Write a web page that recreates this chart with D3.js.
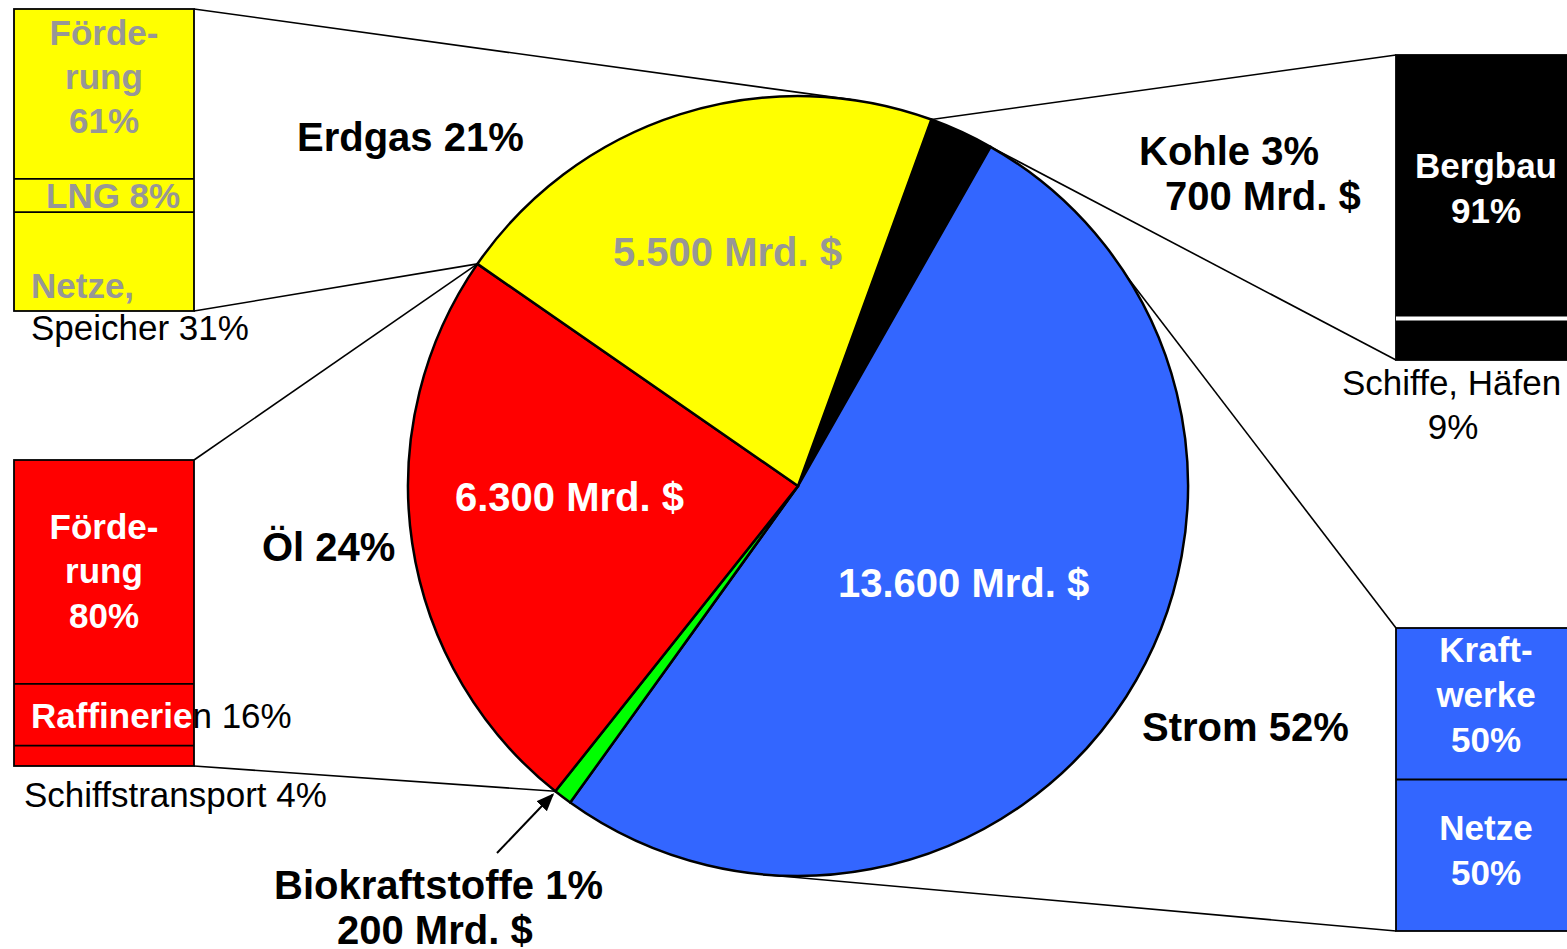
<!DOCTYPE html>
<html>
<head>
<meta charset="utf-8">
<script src="https://cdn.jsdelivr.net/npm/d3@7/dist/d3.min.js"></script>
<style>
  body { margin: 0; background: #fff; }
  text { font-family: "Liberation Sans", Arial, sans-serif; }
</style>
</head>
<body>
<svg id="chart" width="1567" height="949"></svg>
<script>
// Investitionen in die Energieversorgung (Mrd. $)
var sectors = ["Kohle", "Strom", "Biokraftstoffe", "Öl", "Erdgas"];
var investments = [700, 13600, 200, 6300, 5500];
var sectorShares = [3, 52, 1, 24, 21];
var sectorColors = ["#000000", "#3366ff", "#00ff00", "#ff0000", "#ffff00"];

// breakdown bars
var erdgasParts = ["Förderung", "LNG", "Netze, Speicher"];
var erdgasShares = [61, 8, 31];
var oelParts = ["Förderung", "Raffinerien", "Schiffstransport"];
var oelShares = [80, 16, 4];
var kohleParts = ["Bergbau", "Schiffe, Häfen"];
var kohleShares = [91, 9];
var stromParts = ["Kraftwerke", "Netze"];
var stromShares = [50, 50];

var svg = d3.select("#chart");
var cx = 798, cy = 486, r = 390;
var startAngle = 20 * Math.PI / 180;

var pie = d3.pie().sort(null).value(function (d) { return d; })
    .startAngle(startAngle).endAngle(startAngle + 2 * Math.PI);
var arcs = pie(investments);
var arc = d3.arc().innerRadius(0).outerRadius(r);

function onCircle(a, rr) {
    rr = rr || r;
    return [cx + rr * Math.sin(a), cy - rr * Math.cos(a)];
}
// tangent point on the pie seen from an outside point, side = +1 / -1
function tangent(p, side) {
    var dx = p[0] - cx, dy = p[1] - cy;
    var d = Math.sqrt(dx * dx + dy * dy);
    var th = Math.atan2(dx, -dy);
    return onCircle(th + side * Math.acos(r / d));
}

var boxW = 180;
var boxes = [
    {name: "Erdgas", x: 14, y0: 9, y1: 311, shares: erdgasShares, fill: "#ffff00", sep: "#000"},
    {name: "Öl", x: 14, y0: 460, y1: 766, shares: oelShares, fill: "#ff0000", sep: "#000"},
    {name: "Kohle", x: 1396, y0: 55, y1: 360, shares: kohleShares, fill: "#000000", sep: "#fff"},
    {name: "Strom", x: 1396, y0: 628, y1: 931, shares: stromShares, fill: "#3366ff", sep: "#000"}
];
// small parts get a little more room: segment size ~ share^0.8
var grow = d3.scalePow().exponent(0.8).domain([0, 100]).range([0, 100]);
boxes.forEach(function (b) {
    var w = b.shares.map(grow);
    var total = d3.sum(w);
    var y = d3.scaleLinear().domain([0, total]).range([b.y0, b.y1]);
    var cum = 0;
    b.segs = w.map(function (v) {
        var o = {top: y(cum), bottom: y(cum + v)};
        cum += v;
        return o;
    });
});

// -------------------------------------------------------------
// connector lines (drawn behind the pie)
var kohle = arcs[0], oel = arcs[3];
var lines = [
    [[boxes[0].x + boxW, boxes[0].y0], tangent([boxes[0].x + boxW, boxes[0].y0], 1)],
    [[boxes[0].x + boxW, boxes[0].y1], onCircle(oel.endAngle)],
    [[boxes[1].x + boxW, boxes[1].y0], onCircle(oel.endAngle)],
    [[boxes[1].x + boxW, boxes[1].y1], onCircle(oel.startAngle)],
    [[boxes[2].x, boxes[2].y0], onCircle(kohle.startAngle)],
    [[boxes[2].x, boxes[2].y1], onCircle(kohle.endAngle)],
    [[boxes[3].x, boxes[3].y0], onCircle(47.5 * Math.PI / 180)],
    [[boxes[3].x, boxes[3].y1], tangent([boxes[3].x, boxes[3].y1], 1)]
];
svg.append("g").selectAll("line").data(lines).enter().append("line")
    .attr("x1", function (d) { return d[0][0]; })
    .attr("y1", function (d) { return d[0][1]; })
    .attr("x2", function (d) { return d[1][0]; })
    .attr("y2", function (d) { return d[1][1]; })
    .attr("stroke", "#000").attr("stroke-width", 1.6);

// pie
svg.append("g").attr("transform", "translate(" + cx + "," + cy + ")")
    .selectAll("path").data(arcs).enter().append("path")
    .attr("d", arc)
    .attr("fill", function (d, i) { return sectorColors[i]; })
    .attr("stroke", "#000").attr("stroke-width", 2.5)
    .attr("stroke-linejoin", "round");

// breakdown bars
boxes.forEach(function (b) {
    var g = svg.append("g");
    g.append("rect")
        .attr("x", b.x).attr("y", b.y0).attr("width", boxW).attr("height", b.y1 - b.y0)
        .attr("fill", b.fill).attr("stroke", "#000").attr("stroke-width", 1.8);
    g.selectAll("line.sep").data(b.segs.slice(1)).enter().append("line")
        .attr("x1", b.x).attr("x2", b.x + boxW)
        .attr("y1", function (d) { return d.top; })
        .attr("y2", function (d) { return d.top; })
        .attr("stroke", b.sep).attr("stroke-width", b.sep === "#fff" ? 4 : 1.8);
});

// -------------------------------------------------------------
// labels
function label(x, y, txt, opts) {
    opts = opts || {};
    return svg.append("text").attr("x", x).attr("y", y)
        .attr("text-anchor", opts.anchor || "start")
        .attr("font-size", opts.size || 40)
        .attr("font-weight", opts.weight || "bold")
        .attr("fill", opts.fill || "#000")
        .text(txt);
}
function fmt(v) { return d3.format(",")(v).replace(/,/g, ".") + " Mrd. $"; }
var gray = "#979797";

label(297, 151, sectors[4] + " " + sectorShares[4] + "%");
label(613, 266, fmt(investments[4]), {fill: gray});
label(455, 511, fmt(investments[3]), {fill: "#fff"});
label(262, 561, sectors[3] + " " + sectorShares[3] + "%");
label(838, 597, fmt(investments[1]), {fill: "#fff"});
label(1139, 165, sectors[0] + " " + sectorShares[0] + "%");
label(1165, 210, fmt(investments[0]));
label(1142, 741, sectors[1] + " " + sectorShares[1] + "%");
label(274, 899, sectors[2] + " " + sectorShares[2] + "%");
label(337, 944, fmt(investments[2]));

// arrow to Biokraftstoffe
svg.append("defs").append("marker")
    .attr("id", "arrow").attr("viewBox", "0 0 10 10")
    .attr("refX", 9).attr("refY", 5)
    .attr("markerUnits", "userSpaceOnUse")
    .attr("orient", "auto")
    .attr("markerWidth", 18).attr("markerHeight", 18)
    .append("path").attr("d", "M0,1 L10,5 L0,9 Z").attr("fill", "#000");
var tip = onCircle(oel.startAngle, r + 4);
svg.append("line")
    .attr("x1", 497).attr("y1", 853).attr("x2", tip[0]).attr("y2", tip[1])
    .attr("stroke", "#000").attr("stroke-width", 2)
    .attr("marker-end", "url(#arrow)");

// box texts
var bs = 35;
function boxLines(x, ys, txts, fill, anchor) {
    txts.forEach(function (t, i) {
        label(x, ys[i], t, {size: bs, fill: fill, anchor: anchor || "middle"});
    });
}
// Erdgas
var eg = boxes[0];
boxLines(104, [45, 89, 133], ["Förde-", "rung", erdgasShares[0] + "%"], gray);
label(46, (eg.segs[1].top + eg.segs[1].bottom) / 2 + 13, erdgasParts[1] + " " + erdgasShares[1] + "%", {size: bs, fill: gray});
label(31, 298, "Netze,", {size: bs, fill: gray});
label(31, 340, "Speicher " + erdgasShares[2] + "%", {size: bs, weight: "normal"});

// Öl
var og = boxes[1];
boxLines(104, [539, 583, 628], ["Förde-", "rung", oelShares[0] + "%"], "#fff");
var raf = label(31, (og.segs[1].top + og.segs[1].bottom) / 2 + 13, "", {size: bs});
raf.append("tspan").attr("fill", "#fff").text("Raffinerie");
raf.append("tspan").attr("font-weight", "normal").text("n " + oelShares[1] + "%");
label(24, 807, oelParts[2] + " " + oelShares[2] + "%", {size: bs, weight: "normal"});

// Kohle
boxLines(1486, [178, 223], [kohleParts[0], kohleShares[0] + "%"], "#fff");
label(1342, 395, kohleParts[1], {size: bs, weight: "normal"});
label(1453, 439, kohleShares[1] + "%", {size: bs, weight: "normal", anchor: "middle"});

// Strom
boxLines(1486, [662, 707, 752], ["Kraft-", "werke", stromShares[0] + "%"], "#fff");
boxLines(1486, [840, 885], [stromParts[1], stromShares[1] + "%"], "#fff");
</script>
</body>
</html>
